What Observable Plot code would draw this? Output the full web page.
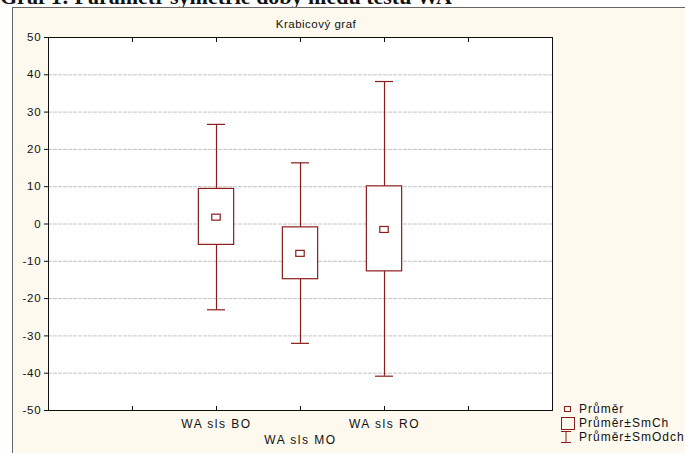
<!DOCTYPE html>
<html><head><meta charset="utf-8">
<script src="https://cdn.jsdelivr.net/npm/d3@7"></script>
<script src="https://cdn.jsdelivr.net/npm/@observablehq/plot@0.6"></script>
<style>
html,body{margin:0;padding:0;width:685px;height:453px;overflow:hidden;background:#fff;font-family:"Liberation Sans",Arial,sans-serif;}
#doc{position:absolute;left:0;top:-16px;font-family:"Liberation Serif","Times New Roman",serif;font-size:22px;font-weight:bold;white-space:nowrap;color:#111;}
#panel{position:absolute;left:12px;top:7px;width:673px;height:446px;background:#fdf9ee;border-left:1px solid #666;border-top:1px solid #666;}
#chart{position:absolute;left:0;top:0;}
#ttl{position:absolute;left:0;width:632px;top:18px;text-align:center;font-size:11.5px;letter-spacing:0.5px;color:#111;}
#legend{position:absolute;left:560px;top:402px;font-size:12px;letter-spacing:1px;color:#111;}
.li{display:flex;align-items:center;height:14px;white-space:nowrap;}
.li svg{width:17px;height:14px;flex:none;margin-right:2px;}
</style></head>
<body>
<div id="doc">Graf 1: Parametr symetrie doby hledu testu WA</div>
<div id="panel"></div>
<div id="ttl">Krabicový graf</div>
<div id="chart"></div>
<div id="legend">
 <div class="li"><svg><rect x="4.5" y="4.5" width="6" height="5" fill="none" stroke="#8b1c1c"/></svg>Průměr</div>
 <div class="li"><svg><rect x="1.5" y="1.5" width="13" height="12" fill="none" stroke="#8b1c1c"/></svg>Průměr±SmCh</div>
 <div class="li"><svg><line x1="6" y1="1" x2="6" y2="13" stroke="#8b1c1c"/><line x1="1" y1="1.5" x2="11" y2="1.5" stroke="#8b1c1c"/><line x1="1" y1="12.5" x2="11" y2="12.5" stroke="#8b1c1c"/></svg>Průměr±SmOdch</div>
</div>
<script>
const categories = ["WA sls BO", "WA sls MO", "WA sls RO"];
const positions = [2, 3, 4];
const means = [1.7, -8.0, -1.6];
const seLow = [-5.6, -14.8, -12.7];
const seHigh = [9.4, -0.9, 10.1];
const sdLow = [-23.0, -32.0, -40.8];
const sdHigh = [26.7, 16.4, 38.2];
const yTicks = [-50, -40, -30, -20, -10, 0, 10, 20, 30, 40, 50];
const gridTicks = [-40, -30, -20, -10, 0, 10, 20, 30, 40];

const data = categories.map((c, i) => ({
  cat: c, pos: positions[i], mean: means[i],
  seLow: seLow[i], seHigh: seHigh[i], sdLow: sdLow[i], sdHigh: sdHigh[i],
  labelDy: i === 1 ? 26 : 10
}));

const red = "#8b1c1c";
const boxHalf = 0.21, capHalf = 0.107, mHalfX = 0.05, mHalfY = 0.8;

const plot = Plot.plot({
  width: 685, height: 453,
  marginLeft: 48, marginRight: 133, marginTop: 37, marginBottom: 43,
  style: {background: "transparent", fontFamily: "'Liberation Sans', Arial, sans-serif", fontSize: "11.5px", color: "#111"},
  x: {type: "linear", domain: [0, 6]},
  y: {domain: [-50, 50]},
  marks: [
    Plot.frame({fill: "white", stroke: null}),
    Plot.ruleY(gridTicks, {stroke: "#c4c4c4", strokeDasharray: "4,1", strokeWidth: 1}),
    Plot.axisY({ticks: yTicks, tickSize: 4, tickPadding: 3, label: null, tickFormat: d => d, stroke: "#111"}),
    Plot.axisX({anchor: "bottom", ticks: [1, 2, 3, 4, 5], tickSize: -4, tickFormat: () => "", label: null}),
    Plot.axisX({anchor: "top", ticks: [1, 2, 3, 4, 5], tickSize: -4, tickFormat: () => "", label: null}),
    Plot.ruleX(data, {x: "pos", y1: "sdLow", y2: "sdHigh", stroke: red, strokeWidth: 1.2}),
    Plot.ruleY(data, {y: "sdHigh", x1: d => d.pos - capHalf, x2: d => d.pos + capHalf, stroke: red, strokeWidth: 1.2}),
    Plot.ruleY(data, {y: "sdLow", x1: d => d.pos - capHalf, x2: d => d.pos + capHalf, stroke: red, strokeWidth: 1.2}),
    Plot.rect(data, {x1: d => d.pos - boxHalf, x2: d => d.pos + boxHalf, y1: "seLow", y2: "seHigh", fill: "white", stroke: red, strokeWidth: 1.2}),
    Plot.rect(data, {x1: d => d.pos - mHalfX, x2: d => d.pos + mHalfX, y1: d => d.mean - mHalfY, y2: d => d.mean + mHalfY, fill: "white", stroke: red, strokeWidth: 1.2}),
    Plot.text(data, {x: "pos", y: -50, text: "cat", fill: "#111", fontSize: 12}),
    Plot.frame({stroke: "#111", strokeWidth: 1})
  ]
});
document.getElementById("chart").append(plot);
// stagger category labels (dy per label)
const texts = plot.querySelectorAll("g[aria-label='text'] text");
texts.forEach((t, i) => { t.setAttribute("dy", String(data[i].labelDy + 4)); t.style.letterSpacing = "1.5px"; });
plot.querySelectorAll("g[aria-label='y-axis tick label'] text").forEach(t => t.style.letterSpacing = "0.8px");
</script>
</body></html>
